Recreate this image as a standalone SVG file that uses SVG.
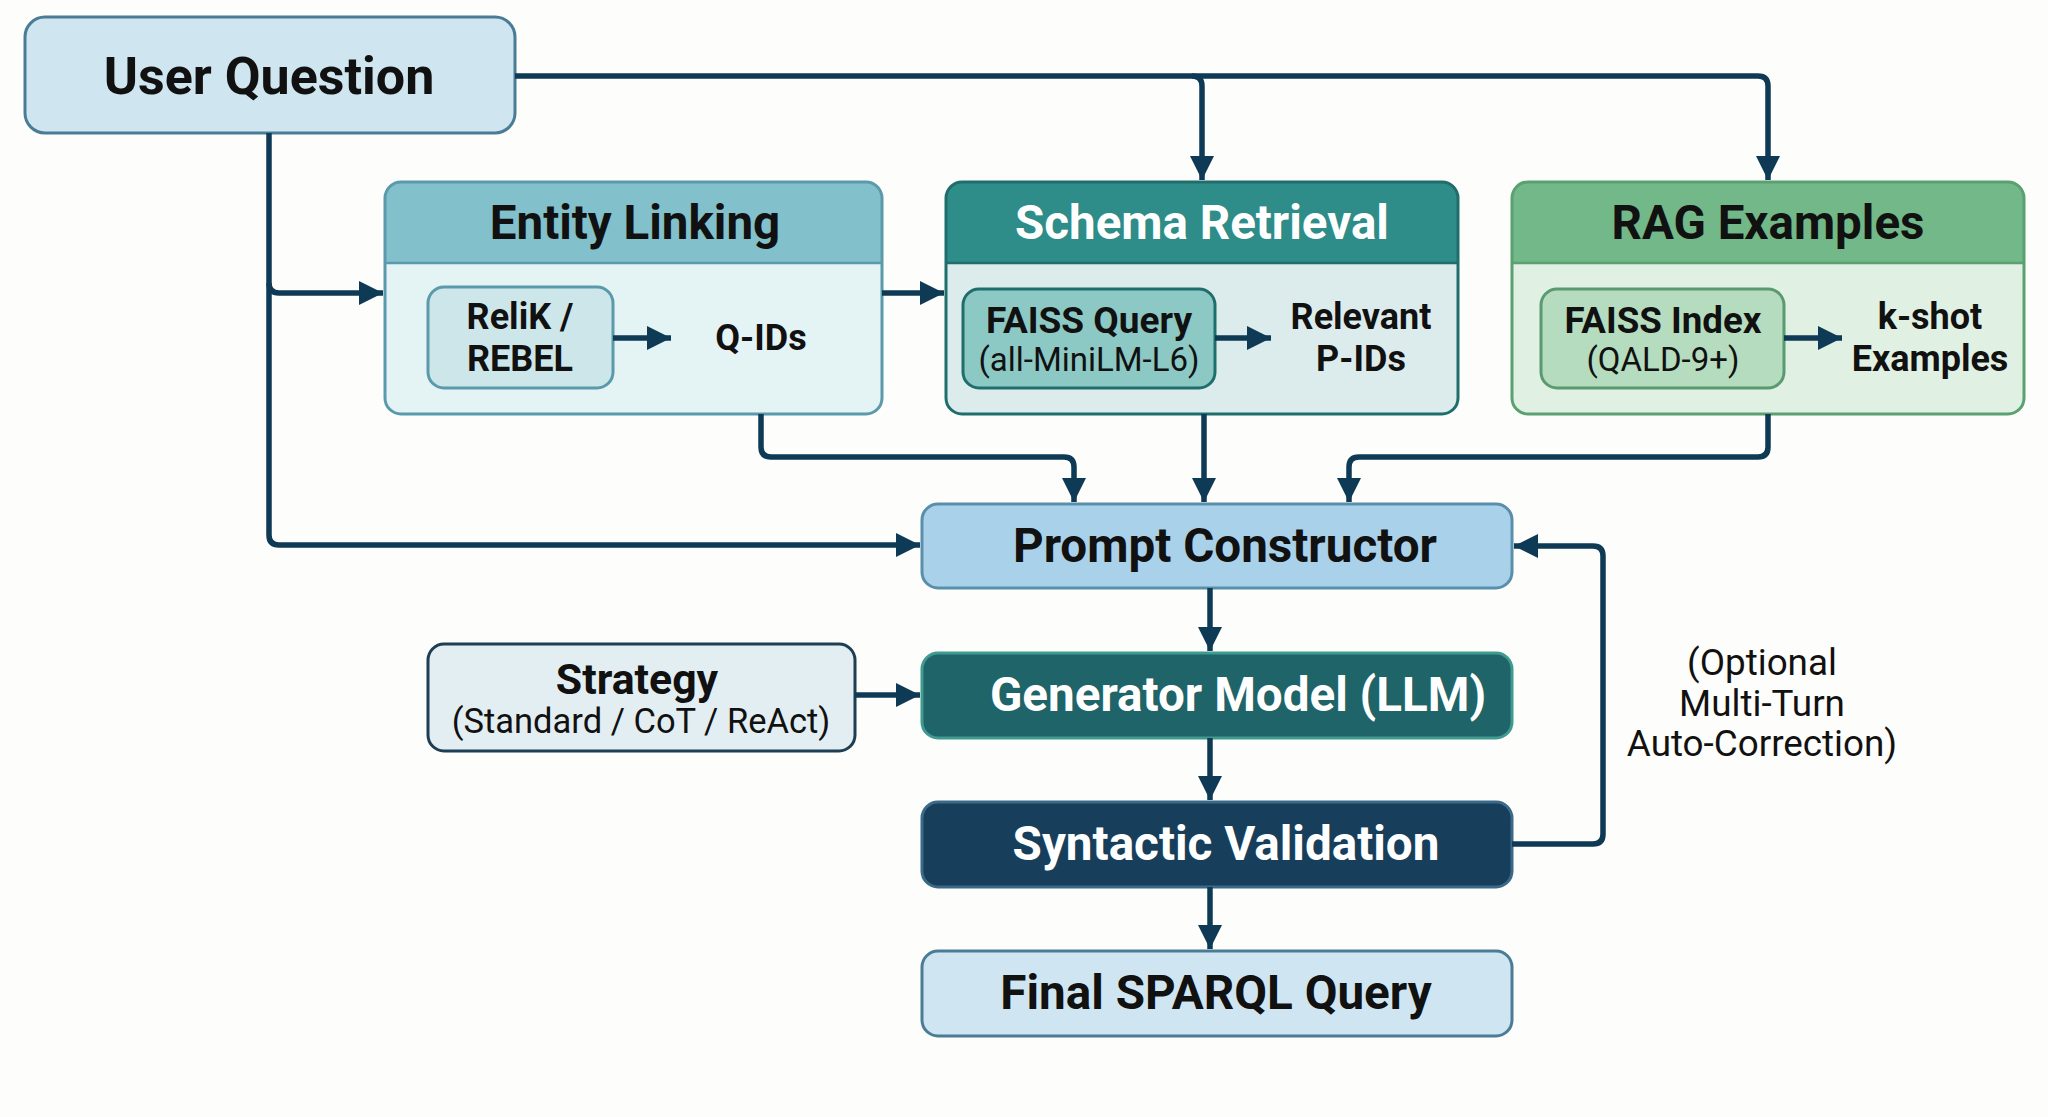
<svg xmlns="http://www.w3.org/2000/svg" width="2048" height="1117" viewBox="0 0 2048 1117">
<style>
text{font-family:Roboto,"Liberation Sans",sans-serif;text-anchor:middle;dominant-baseline:central;fill:#111}
.b{font-weight:700}
.r{font-weight:400}
.w{fill:#fff}
.con{fill:none;stroke:#0e3a55;stroke-width:5.5;stroke-linejoin:round}
</style>
<defs>
<marker id="ah" markerUnits="userSpaceOnUse" markerWidth="28" markerHeight="26" refX="24" refY="12" orient="auto">
<path d="M0,0 L24,12 L0,24 Z" fill="#0e3a55"/>
</marker>
</defs>
<rect width="2048" height="1117" fill="#fdfdfb"/>

<g id="user-question">
<rect x="25" y="17" width="490" height="116" rx="20" fill="#cfe5f0" stroke="#4a7c96" stroke-width="3"/>
<text x="269" y="76" class="b" font-size="52">User Question</text>
</g>

<g id="entity-linking">
<rect x="385" y="182" width="497" height="232" rx="16" fill="#e4f3f4"/>
<path d="M385,263 V198 Q385,182 401,182 H866 Q882,182 882,198 V263 Z" fill="#82c0cb"/>
<line x1="385" y1="263" x2="882" y2="263" stroke="#5a9aab" stroke-width="2.5"/>
<rect x="385" y="182" width="497" height="232" rx="16" fill="none" stroke="#5a9aab" stroke-width="3"/>
<text x="635" y="223" class="b" font-size="47.5">Entity Linking</text>
<rect x="428" y="287" width="185" height="101" rx="16" fill="#cde6ea" stroke="#5a9aab" stroke-width="3"/>
<text x="520" y="317" class="b" font-size="36">ReliK /</text>
<text x="520" y="359" class="b" font-size="36">REBEL</text>
<text x="761" y="338" class="b" font-size="36">Q-IDs</text>
</g>

<g id="schema-retrieval">
<rect x="946" y="182" width="512" height="232" rx="16" fill="#dcecec"/>
<path d="M946,263 V198 Q946,182 962,182 H1442 Q1458,182 1458,198 V263 Z" fill="#2e8c89"/>
<line x1="946" y1="263" x2="1458" y2="263" stroke="#1f6e6c" stroke-width="2.5"/>
<rect x="946" y="182" width="512" height="232" rx="16" fill="none" stroke="#1f6e6c" stroke-width="3"/>
<text x="1202" y="223" class="b w" font-size="47.5">Schema Retrieval</text>
<rect x="963" y="289" width="252" height="99" rx="16" fill="#8cc8c4" stroke="#1f6e6c" stroke-width="3"/>
<text x="1089" y="320" class="b" font-size="37">FAISS Query</text>
<text x="1089" y="359" class="r" font-size="33">(all-MiniLM-L6)</text>
<text x="1361" y="317" class="b" font-size="36">Relevant</text>
<text x="1361" y="359" class="b" font-size="36">P-IDs</text>
</g>

<g id="rag-examples">
<rect x="1512" y="182" width="512" height="232" rx="16" fill="#e0f0e2"/>
<path d="M1512,263 V198 Q1512,182 1528,182 H2008 Q2024,182 2024,198 V263 Z" fill="#72b888"/>
<line x1="1512" y1="263" x2="2024" y2="263" stroke="#5aa070" stroke-width="2.5"/>
<rect x="1512" y="182" width="512" height="232" rx="16" fill="none" stroke="#5aa070" stroke-width="3"/>
<text x="1768" y="223" class="b" font-size="47.5">RAG Examples</text>
<rect x="1541" y="289" width="243" height="99" rx="16" fill="#b5dcbf" stroke="#5a9a70" stroke-width="3"/>
<text x="1663" y="320" class="b" font-size="36.7">FAISS Index</text>
<text x="1663" y="359" class="r" font-size="33">(QALD-9+)</text>
<text x="1930" y="317" class="b" font-size="36">k-shot</text>
<text x="1930" y="359" class="b" font-size="36">Examples</text>
</g>

<g id="prompt-constructor">
<rect x="922" y="504" width="590" height="84" rx="16" fill="#a9d2ea" stroke="#5a8fac" stroke-width="3"/>
<text x="1225" y="546" class="b" font-size="47.6">Prompt Constructor</text>
</g>

<g id="strategy">
<rect x="428" y="644" width="427" height="107" rx="16" fill="#e3eef2" stroke="#1d3e53" stroke-width="3"/>
<text x="637" y="679" class="b" font-size="42.8">Strategy</text>
<text x="641" y="721" class="r" font-size="34.5">(Standard / CoT / ReAct)</text>
</g>

<g id="generator-model">
<rect x="922" y="653" width="590" height="85" rx="16" fill="#1f6468" stroke="#3f9a90" stroke-width="3"/>
<text x="1238" y="695" class="b w" font-size="47.6">Generator Model (LLM)</text>
</g>

<g id="syntactic-validation">
<rect x="922" y="802" width="590" height="85" rx="16" fill="#173f5c" stroke="#3a6a88" stroke-width="3"/>
<text x="1226" y="844" class="b w" font-size="47.6">Syntactic Validation</text>
</g>

<g id="final-sparql">
<rect x="922" y="951" width="590" height="85" rx="16" fill="#cfe6f2" stroke="#4a7c96" stroke-width="3"/>
<text x="1216" y="993" class="b" font-size="47.6">Final SPARQL Query</text>
</g>

<g id="label-optional">
<text x="1762" y="662" class="r" font-size="36.8">(Optional</text>
<text x="1762" y="703" class="r" font-size="36.8">Multi-Turn</text>
<text x="1762" y="743" class="r" font-size="36.8">Auto-Correction)</text>
</g>

<g id="connectors">
<path class="con" d="M515,76 H1758 Q1768,76 1768,86 V180" marker-end="url(#ah)"/>
<path class="con" d="M1192,76 Q1202,76 1202,86 V180" marker-end="url(#ah)"/>
<path class="con" d="M269,133 V535 Q269,545 279,545 H920" marker-end="url(#ah)"/>
<path class="con" d="M269,283 Q269,293 279,293 H383" marker-end="url(#ah)"/>
<path class="con" d="M882,293 H944" marker-end="url(#ah)"/>
<path class="con" d="M761,414 V447 Q761,457 771,457 H1064 Q1074,457 1074,467 V502" marker-end="url(#ah)"/>
<path class="con" d="M1204,414 V502" marker-end="url(#ah)"/>
<path class="con" d="M1768,414 V447 Q1768,457 1758,457 H1359 Q1349,457 1349,467 V502" marker-end="url(#ah)"/>
<path class="con" d="M1210,588 V651" marker-end="url(#ah)"/>
<path class="con" d="M855,695 H920" marker-end="url(#ah)"/>
<path class="con" d="M1210,738 V800" marker-end="url(#ah)"/>
<path class="con" d="M1512,844 H1593 Q1603,844 1603,834 V556 Q1603,546 1593,546 H1514" marker-end="url(#ah)"/>
<path class="con" d="M1210,887 V949" marker-end="url(#ah)"/>
<path class="con" d="M613,338 H671" marker-end="url(#ah)"/>
<path class="con" d="M1215,338 H1271" marker-end="url(#ah)"/>
<path class="con" d="M1784,338 H1842" marker-end="url(#ah)"/>
</g>
</svg>
